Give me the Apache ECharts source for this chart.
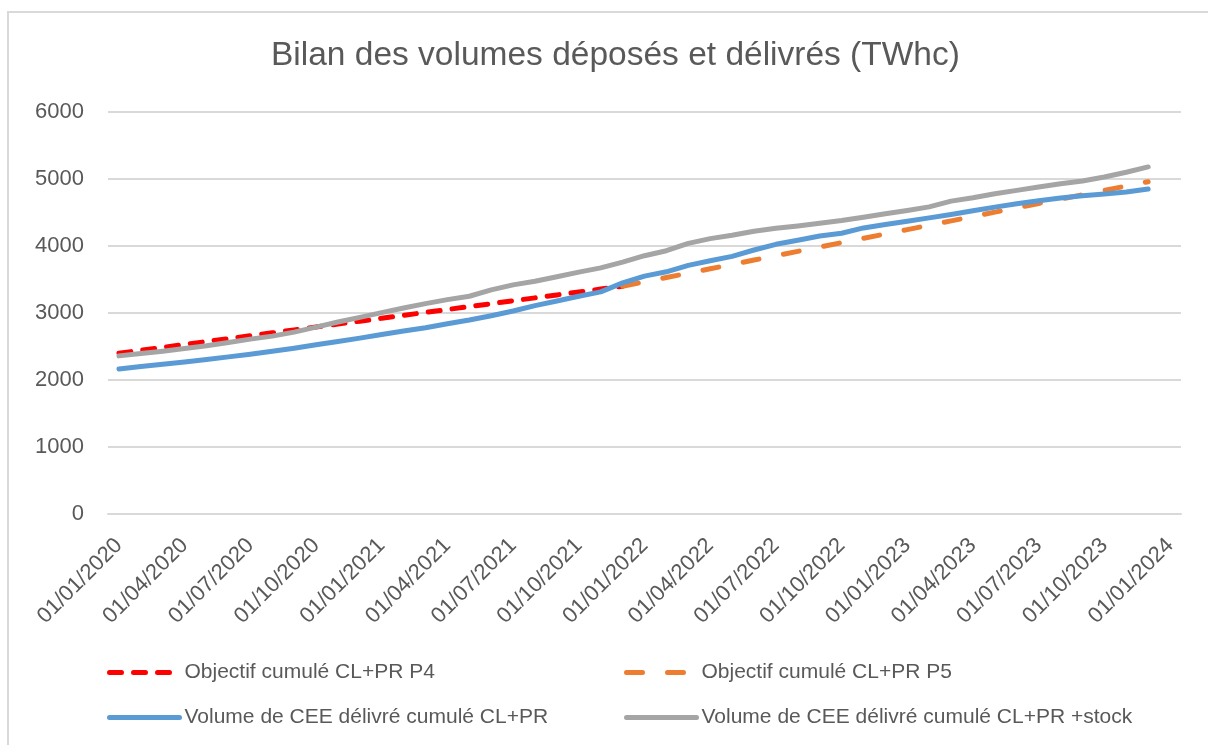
<!DOCTYPE html>
<html lang="fr">
<head>
    <meta charset="UTF-8">
    <title>Bilan des volumes</title>
    <script src="https://cdn.jsdelivr.net/npm/echarts@6/dist/echarts.min.js"></script>
</head>
<body style="margin:0">
    <div id="main" style="width: 1208px;height:745px;"></div>
    <script type="text/javascript">

        // one category per month, Jan 2020 -> Jan 2024
        const mois = [
            '01/01/2020', '01/02/2020', '01/03/2020', '01/04/2020', '01/05/2020', '01/06/2020',
            '01/07/2020', '01/08/2020', '01/09/2020', '01/10/2020', '01/11/2020', '01/12/2020',
            '01/01/2021', '01/02/2021', '01/03/2021', '01/04/2021', '01/05/2021', '01/06/2021',
            '01/07/2021', '01/08/2021', '01/09/2021', '01/10/2021', '01/11/2021', '01/12/2021',
            '01/01/2022', '01/02/2022', '01/03/2022', '01/04/2022', '01/05/2022', '01/06/2022',
            '01/07/2022', '01/08/2022', '01/09/2022', '01/10/2022', '01/11/2022', '01/12/2022',
            '01/01/2023', '01/02/2023', '01/03/2023', '01/04/2023', '01/05/2023', '01/06/2023',
            '01/07/2023', '01/08/2023', '01/09/2023', '01/10/2023', '01/11/2023', '01/12/2023',
            '01/01/2024'
        ];

        // objectif P4 : 01/2020 -> 12/2021
        const objectifP4 = [
            2400, 2443, 2487, 2530, 2574, 2617, 2661, 2704, 2748, 2791, 2835, 2878,
            2922, 2965, 3009, 3052, 3096, 3139, 3183, 3226, 3270, 3313, 3357, 3400
        ];
        // objectif P5 : starts 12/2021 (index 23) -> 12/2023
        const debutP5 = 23;
        const objectifP5 = [
            3400, 3465, 3530, 3595, 3660, 3725, 3790, 3855, 3920, 3985, 4050, 4115,
            4180, 4245, 4310, 4375, 4440, 4505, 4570, 4635, 4700, 4765, 4830, 4895, 4960
        ];
        const volumeDelivre = [
            2165, 2200, 2235, 2270, 2305, 2345, 2385, 2430, 2475, 2525, 2575, 2625,
            2680, 2730, 2780, 2840, 2895, 2960, 3030, 3110, 3180, 3250, 3315, 3450,
            3550, 3615, 3710, 3780, 3845, 3940, 4025, 4085, 4150, 4190, 4270, 4320,
            4370, 4420, 4470, 4525, 4580, 4630, 4675, 4715, 4750, 4775, 4805, 4850
        ];
        const volumeStock = [
            2360, 2395, 2430, 2470, 2510, 2560, 2610, 2655, 2715, 2790, 2865, 2935,
            3005, 3075, 3140, 3200, 3250, 3345, 3420, 3475, 3540, 3610, 3673, 3760,
            3855, 3930, 4040, 4110, 4160, 4220, 4265, 4300, 4340, 4380, 4430, 4480,
            4530, 4584, 4670, 4720, 4780, 4830, 4880, 4930, 4970, 5030, 5100, 5180
        ];

        const noms = [
            'Objectif cumulé CL+PR P4',
            'Objectif cumulé CL+PR P5',
            'Volume de CEE délivré cumulé CL+PR',
            'Volume de CEE délivré cumulé CL+PR +stock'
        ];
        const couleurs = ['#FF0000', '#ED7D31', '#5B9BD5', '#A5A5A5'];
        const tirets = [[12, 12], [16, 25], 'solid', 'solid'];

        const police = 'Liberation Sans';
        const gris = '#595959';

        const p5Complet = new Array(debutP5).fill(null).concat(objectifP5);
        const donnees = [objectifP4, p5Complet, volumeDelivre, volumeStock];

        const seriesList = donnees.map(function (d, i) {
            return {
                type: 'line',
                name: noms[i],
                data: d,
                symbol: 'none',
                z: 2 + i,
                lineStyle: {
                    color: couleurs[i],
                    width: 5,
                    type: tirets[i],
                    cap: 'round',
                    join: 'round'
                },
                itemStyle: { color: couleurs[i] }
            };
        });

        function legendItem(i) {
            return {
                name: noms[i],
                itemStyle: { opacity: 0 },
                lineStyle: { color: couleurs[i], width: 5, type: tirets[i], cap: 'round', opacity: 1 }
            };
        }

        const legendCommon = {
            orient: 'vertical',
            top: 662,
            itemWidth: 70,
            itemHeight: 21,
            itemGap: 24,
            padding: 0,
            selectedMode: false,
            textStyle: { fontFamily: police, fontSize: 21, color: gris }
        };

        var chartDom = document.getElementById('main');
        var myChart = echarts.init(chartDom);
        var option = {
            animation: false,
            backgroundColor: '#fff',
            textStyle: { fontFamily: police },
            graphic: [{
                type: 'rect',
                shape: { x: 8, y: 12, width: 1300, height: 800 },
                style: { fill: null, stroke: '#D9D9D9', lineWidth: 2 },
                silent: true
            }],
            title: {
                text: 'Bilan des volumes déposés et délivrés (TWhc)',
                left: 271,
                top: 39,
                padding: 0,
                textStyle: { fontFamily: police, fontSize: 33.5, fontWeight: 'normal', color: gris }
            },
            legend: [
                Object.assign({ left: 107, data: [legendItem(0), legendItem(2)] }, legendCommon),
                Object.assign({ left: 624, data: [legendItem(1), legendItem(3)] }, legendCommon)
            ],
            grid: { left: 108, right: 27, top: 112, bottom: 231 },
            xAxis: {
                type: 'category',
                boundaryGap: true,
                data: mois,
                axisLine: { show: true, lineStyle: { color: '#D9D9D9', width: 2 } },
                axisTick: { show: false },
                axisLabel: {
                    interval: 2,
                    rotate: 45,
                    margin: 28,
                    fontSize: 22,
                    fontFamily: police,
                    color: gris
                }
            },
            yAxis: {
                type: 'value',
                min: 0,
                max: 6000,
                interval: 1000,
                axisLine: { show: false },
                axisTick: { show: false },
                axisLabel: {
                    margin: 24,
                    fontSize: 22,
                    fontFamily: police,
                    color: gris,
                    formatter: function (v) { return String(v); }
                },
                splitLine: { lineStyle: { color: '#D9D9D9', width: 2 } }
            },
            series: seriesList
        };
        myChart.setOption(option);

    </script>
</body>
</html>
